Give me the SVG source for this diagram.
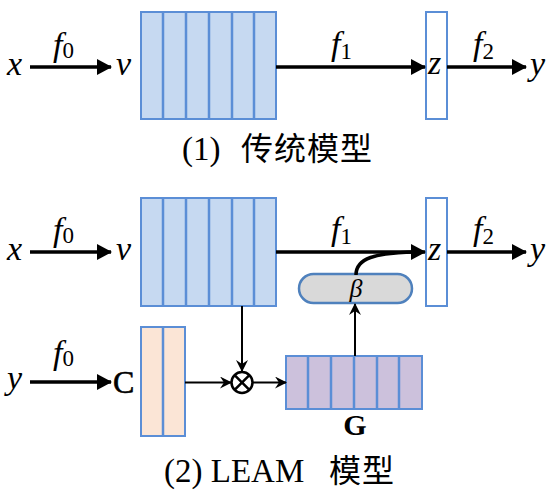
<svg xmlns="http://www.w3.org/2000/svg" width="554" height="496" viewBox="0 0 554 496">
<style>
.bl{fill:#c6d9f1;stroke:#5b8ed6;stroke-width:2}
.zb{fill:#ffffff;stroke:#5b8ed6;stroke-width:2}
.pc{fill:#fbe5d6;stroke:#5b8ed6;stroke-width:2}
.lv{fill:#ccc1dc;stroke:#5b8ed6;stroke-width:2}
.dv{stroke:#5b8ed6;stroke-width:2.5;fill:none}
.thick{stroke:#000;stroke-width:3.5;fill:none}
.thin{stroke:#000;stroke-width:2;fill:none}
.m{font-family:'Liberation Serif',serif;font-style:italic;font-size:34px;fill:#000}
.sub{font-family:'Liberation Serif',serif;font-style:normal;font-size:23px;fill:#000}
.beta{font-family:'Liberation Serif',serif;font-style:italic;font-size:26px;fill:#000}
.cap{font-family:'Liberation Serif',serif;font-size:33px;fill:#000}
.cjk{font-family:'Noto Sans CJK SC',sans-serif;font-size:32px;fill:#000}
.bd{font-family:'Liberation Serif',serif;font-weight:bold;font-size:30px;fill:#000}
.rc{font-family:'Liberation Serif',serif;font-size:32px;fill:#000;stroke:#000;stroke-width:0.6}
</style>
<defs>
<marker id="big" markerUnits="userSpaceOnUse" markerWidth="15" markerHeight="16" refX="14" refY="8" orient="auto">
<path d="M0,0 L15,8 L0,16 Z" fill="#000"/>
</marker>
<marker id="sm" markerUnits="userSpaceOnUse" markerWidth="12" markerHeight="12" refX="11" refY="6" orient="auto">
<path d="M0,0 L12,6 L0,12 L4,6 Z" fill="#000"/>
</marker>
</defs>

<g id="top-block">
<rect class="bl" x="141" y="12" width="135" height="107"/>
<path class="dv" d="M163,12V119M186,12V119M209,12V119M232,12V119M254,12V119"/>
</g>
<g id="top-z">
<rect class="zb" x="426" y="12" width="21" height="107"/>
<text class="m" x="428" y="74">z</text>
</g>
<g id="top-labels">
<text class="m" x="7" y="75">x</text>
<text class="m" x="116" y="75">v</text>
<text class="m" x="530" y="75">y</text>
</g>

<g id="bot-block">
<rect class="bl" x="141" y="198" width="135" height="108"/>
<path class="dv" d="M163,198V306M186,198V306M209,198V306M232,198V306M254,198V306"/>
</g>
<g id="bot-z">
<rect class="zb" x="426" y="198" width="21" height="108"/>
<text class="m" x="428" y="260">z</text>
</g>
<g id="beta">
<rect x="299" y="274" width="113" height="29" rx="14.5" ry="14.5" fill="#d9d9d9" stroke="#4f81bd" stroke-width="2.5"/>
<text class="beta" x="356" y="297" text-anchor="middle">β</text>
</g>
<g id="C-block">
<rect class="pc" x="141" y="327" width="44" height="109"/>
<path class="dv" d="M163,327V436"/>
</g>
<g id="G-block">
<rect class="lv" x="286" y="356" width="136" height="53"/>
<path class="dv" d="M308,356V409M331,356V409M354,356V409M377,356V409M399,356V409"/>
<text class="bd" x="355" y="435" text-anchor="middle">G</text>
</g>
<g id="mult">
<circle cx="242" cy="382.5" r="10.5" fill="#fff" stroke="#000" stroke-width="2.5"/>
<path d="M234.6,375.1 L249.4,389.9 M249.4,375.1 L234.6,389.9" stroke="#000" stroke-width="2.5"/>
</g>
<g id="bot-labels">
<text class="m" x="7" y="260">x</text>
<text class="m" x="116" y="260">v</text>
<text class="m" x="530" y="260">y</text>
<text class="m" x="7" y="389">y</text>
<text class="rc" x="113" y="393">C</text>
</g>

<g id="connectors">
<line class="thick" x1="30" y1="67" x2="111" y2="67" marker-end="url(#big)"/>
<line class="thick" x1="276" y1="67" x2="425" y2="67" marker-end="url(#big)"/>
<line class="thick" x1="447" y1="67" x2="526" y2="67" marker-end="url(#big)"/>
<line class="thick" x1="30" y1="252" x2="111" y2="252" marker-end="url(#big)"/>
<line class="thick" x1="276" y1="252" x2="425" y2="252" marker-end="url(#big)"/>
<line class="thick" x1="447" y1="252" x2="526" y2="252" marker-end="url(#big)"/>
<path class="thick" d="M356,275 C356,258 375,253 415,252"/>
<line class="thick" x1="30" y1="382" x2="111" y2="382" marker-end="url(#big)"/>
<line class="thin" x1="242" y1="306" x2="242" y2="371" marker-end="url(#sm)"/>
<line class="thin" x1="185" y1="382.5" x2="231" y2="382.5" marker-end="url(#sm)"/>
<line class="thin" x1="253" y1="382.5" x2="286" y2="382.5" marker-end="url(#sm)"/>
<line class="thin" x1="355" y1="356" x2="355" y2="304" marker-end="url(#sm)"/>
</g>

<g id="edge-labels">
<text class="m" x="53" y="56">f<tspan class="sub" dy="2">0</tspan></text>
<text class="m" x="331" y="55">f<tspan class="sub" dy="4">1</tspan></text>
<text class="m" x="473" y="55">f<tspan class="sub" dy="4">2</tspan></text>
<text class="m" x="53" y="241">f<tspan class="sub" dy="2">0</tspan></text>
<text class="m" x="331" y="240">f<tspan class="sub" dy="4">1</tspan></text>
<text class="m" x="473" y="240">f<tspan class="sub" dy="4">2</tspan></text>
<text class="m" x="53" y="364">f<tspan class="sub" dy="2">0</tspan></text>
</g>

<g id="captions">
<text class="cap" x="182" y="160">(1)</text>
<text class="cjk" x="241" y="160" letter-spacing="1">传统模型</text>
<text class="cap" x="164" y="482">(2) LEAM</text>
<text class="cjk" x="329" y="482" letter-spacing="1">模型</text>
</g>
</svg>
